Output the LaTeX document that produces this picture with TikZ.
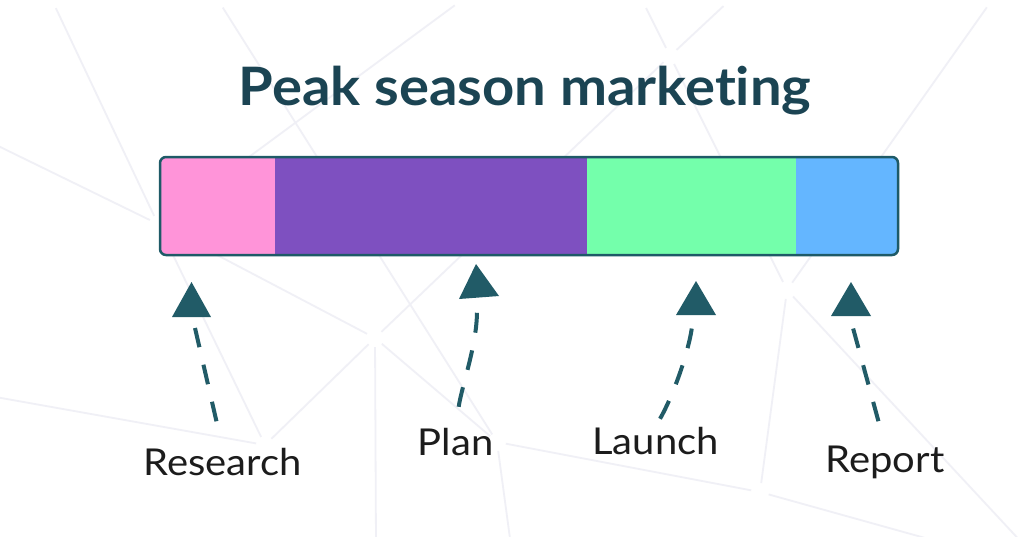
\documentclass[tikz,border=0pt]{standalone}
\usepackage{fontspec}
\setmainfont{Lato}[Ligatures=NoCommon]
\usetikzlibrary{calc}
\definecolor{titlec}{HTML}{1B4453}
\definecolor{tealc}{HTML}{215B67}
\definecolor{borderc}{HTML}{1E5A67}
\definecolor{pinkc}{HTML}{FF94D9}
\definecolor{purplec}{HTML}{7E50C0}
\definecolor{greenc}{HTML}{74FFAB}
\definecolor{bluec}{HTML}{64B6FF}
\definecolor{textc}{HTML}{1C1C1C}
\definecolor{netc}{HTML}{F0F0F6}
\tikzset{
  netline/.style={draw=netc, line width=1.8pt, shorten <=9pt, shorten >=9pt},
  lbl/.style={font=\fontsize{37}{42}\selectfont, text=textc, inner sep=0pt, anchor=base},
  conn/.style={draw=tealc, line width=4pt, dash pattern=on 20pt off 18pt},
  tipfill/.style={fill=tealc},
}
\begin{document}
\begin{tikzpicture}[x=1pt,y=-1pt]
\useasboundingbox (0,0) rectangle (1024,536);
\clip (0,0) rectangle (1024,536);
\fill[white] (0,0) rectangle (1024,536);
% background network
\coordinate (A) at (158,224);
\coordinate (B) at (375,338);
\coordinate (C) at (497,442);
\coordinate (D) at (760,492);
\coordinate (E) at (787,290);
\coordinate (F) at (670,56);
\coordinate (G) at (265,445);
\path[netline] (A) -- (52,0);
\path[netline] (A) -- (-10,142);
\path[netline] (A) -- (462,0);
\path[netline] (A) -- (G);
\path[netline] (A) -- (B);
\path[netline] (B) -- (F);
\path[netline] (F) -- (730,0);
\path[netline] (F) -- (642,0);
\path[netline] (F) -- (E);
\path[netline] (B) -- (G);
\path[netline] (B) -- (376,546);
\path[netline] (B) -- (C);
\path[netline] (C) -- (218,0);
\path[netline] (C) -- (511,546);
\path[netline] (C) -- (D);
\path[netline] (D) -- (E);
\path[netline] (D) -- (1040,570);
\path[netline] (E) -- (992,0);
\path[netline] (E) -- (1025,546);
\path[netline] (G) -- (-10,396);
% title
\node[font=\fontsize{53}{60}\selectfont\bfseries, text=titlec, inner sep=0pt, anchor=base] (title) at (525,105) {\scalebox{1.06}[1]{Peak season marketing}};
% bar
\begin{scope}
  \clip[rounded corners=6pt] (160,157) rectangle (898,255);
  \fill[pinkc] (160,157) rectangle (275,255);
  \fill[purplec] (275,157) rectangle (587,255);
  \fill[greenc] (587,157) rectangle (796,255);
  \fill[bluec] (796,157) rectangle (898,255);
\end{scope}
\draw[borderc, line width=2.5pt, rounded corners=6pt] (160,157) rectangle (898,255);
% labels
\node[lbl] (research) at (222.5,475) {\scalebox{1.08}[1]{Research}};
\node[lbl] (plan) at (455.5,455) {\scalebox{1.08}[1]{Plan}};
\node[lbl] (launch) at (655.5,454) {\scalebox{1.08}[1]{Launch}};
\node[lbl] (report) at (885,472) {\scalebox{1.08}[1]{Report}};
% arrow heads
\coordinate (rtip) at (191.5,282);
\coordinate (ptip) at (476,264);
\coordinate (ltip) at (696,281);
\coordinate (otip) at (851,282);
\fill[tipfill] (rtip) -- ++(-19.5,35) -- ++(39,0) -- cycle;
\fill[tipfill] (ptip) -- ++(-17,35) -- ++(40,-3) -- cycle;
\fill[tipfill] (ltip) -- ++(-20,34) -- ++(40,0) -- cycle;
\fill[tipfill] (otip) -- ++(-20,34) -- ++(40,0) -- cycle;
% connector ends
\coordinate (rend) at (195,328);
\coordinate (pend) at (477,311);
\coordinate (lend) at (692,327);
\coordinate (oend) at (853,328);
\draw[conn, shorten <=27pt] (research.north) -- (rend);
\draw[conn, shorten <=21pt] (plan.north) .. controls (462,385) and (477,345) .. (pend);
\draw[conn, shorten <=9pt] (launch.north) .. controls (672,398) and (688,355) .. (lend);
\draw[conn, shorten <=25pt] (report.north) -- (oend);
\end{tikzpicture}
\end{document}
